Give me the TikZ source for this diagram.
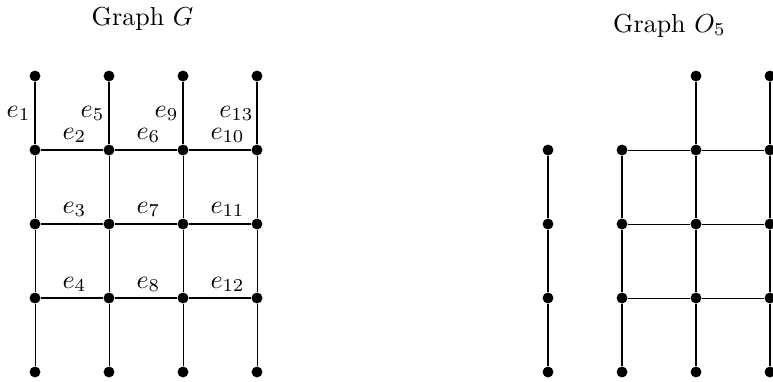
\documentclass[tikz,border=0pt]{standalone}
\begin{document}
\begin{tikzpicture}[x=0.0135135cm,y=-0.0135135cm,
  dot/.style={circle,fill=black,inner sep=0pt,minimum size=4.2pt},
  thickedge/.style={line width=0.9pt},
  thinedge/.style={line width=0.3pt},
  vedge/.style={line width=0.4pt},
  lab/.style={inner sep=0pt}]
\useasboundingbox (0,0) rectangle (773,381);
% titles
\node[anchor=base] (tG) at (142.5,25) {Graph $G$};
\node[anchor=base] (tO) at (669.5,32) {Graph $O_5$};
% graph G nodes
\foreach \c/\x in {1/35,2/109,3/183,4/257}{
  \foreach \r/\y in {1/76,2/150,3/224,4/298,5/372}{
    \node[dot] (g\c\r) at (\x,\y) {};
  }
}
% graph G edges
\foreach \c in {1,...,4}{
  \draw[thickedge] (g\c1) -- (g\c2);
  \draw[thinedge] (g\c2) -- (g\c3) -- (g\c4) -- (g\c5);
}
\foreach \r in {2,3,4}{
  \draw[thickedge] (g1\r) -- (g2\r) -- (g3\r) -- (g4\r);
}
% edge labels
\node[lab,anchor=base east] (e1) at (31,117) {$e_1$};
\node[lab,anchor=base east] (e5) at (105,117) {$e_5$};
\node[lab,anchor=base east] (e9) at (179,117) {$e_9$};
\node[lab,anchor=base east] (e13) at (254,117) {$e_{13}$};
\node[lab,anchor=base west] (e2) at (62,139) {$e_2$};
\node[lab,anchor=base west] (e6) at (136,139) {$e_6$};
\node[lab,anchor=base west] (e10) at (210,139) {$e_{10}$};
\node[lab,anchor=base west] (e3) at (62,213) {$e_3$};
\node[lab,anchor=base west] (e7) at (136,213) {$e_7$};
\node[lab,anchor=base west] (e11) at (210,213) {$e_{11}$};
\node[lab,anchor=base west] (e4) at (62,288) {$e_4$};
\node[lab,anchor=base west] (e8) at (136,288) {$e_8$};
\node[lab,anchor=base west] (e12) at (210,288) {$e_{12}$};
% graph O5 nodes
\foreach \c/\x in {3/696,4/770}{
  \foreach \r/\y in {1/76,2/150,3/224,4/298,5/372}{
    \node[dot] (o\c\r) at (\x,\y) {};
  }
}
\foreach \c/\x in {1/548,2/622}{
  \foreach \r/\y in {2/150,3/224,4/298,5/372}{
    \node[dot] (o\c\r) at (\x,\y) {};
  }
}
% graph O5 edges
\foreach \c in {1,2}{
  \draw[vedge] (o\c2) -- (o\c3) -- (o\c4) -- (o\c5);
}
\foreach \c in {3,4}{
  \draw[vedge] (o\c1) -- (o\c2) -- (o\c3) -- (o\c4) -- (o\c5);
}
\foreach \r in {2,3,4}{
  \draw[thinedge] (o2\r) -- (o3\r) -- (o4\r);
}
\end{tikzpicture}
\end{document}
